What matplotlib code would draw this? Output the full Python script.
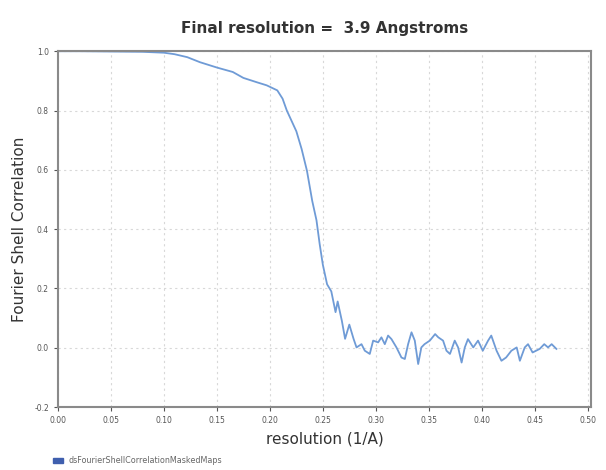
import numpy as np
import matplotlib.pyplot as plt
from matplotlib.patches import Patch

# FSC curve
res = [0.0, 0.02, 0.05, 0.08, 0.10, 0.11, 0.122, 0.134, 0.15, 0.165, 0.175, 0.188,
       0.197, 0.207, 0.212, 0.216, 0.225, 0.230, 0.235, 0.240, 0.244, 0.247, 0.250,
       0.254, 0.258, 0.262, 0.264, 0.268, 0.271, 0.275, 0.279,
       0.2818, 0.2865, 0.2896, 0.2943, 0.2975, 0.3022, 0.3053, 0.3085, 0.3116, 0.3148,
       0.3195, 0.3242, 0.3274, 0.3305, 0.3337, 0.3368, 0.340, 0.343, 0.346, 0.351,
       0.356, 0.359, 0.3635, 0.3667, 0.370, 0.3745, 0.3777, 0.381, 0.384, 0.387,
       0.392, 0.3965, 0.401, 0.406, 0.409, 0.414, 0.4186, 0.423, 0.428, 0.433,
       0.436, 0.4406, 0.4437, 0.448, 0.4547, 0.459, 0.4626, 0.466, 0.4705]
fsc = [1.0, 1.0, 0.999, 0.998, 0.995, 0.99, 0.98, 0.963, 0.945, 0.93, 0.91, 0.895,
       0.885, 0.868, 0.84, 0.80, 0.73, 0.67, 0.597, 0.495, 0.43, 0.35, 0.28,
       0.214, 0.19, 0.12, 0.156, 0.09, 0.03, 0.078, 0.03,
       0.001, 0.012, -0.010, -0.021, 0.024, 0.018, 0.035, 0.012, 0.041, 0.029,
       0.001, -0.033, -0.038, 0.012, 0.052, 0.024, -0.055, 0.001, 0.012, 0.024,
       0.046, 0.035, 0.024, -0.010, -0.021, 0.024, 0.001, -0.050, 0.001, 0.029,
       0.001, 0.024, -0.010, 0.024, 0.041, -0.010, -0.044, -0.033, -0.010, 0.001,
       -0.044, 0.001, 0.012, -0.016, -0.004, 0.012, 0.001, 0.012, -0.004]

xticks = [0.0, 0.05, 0.10, 0.15, 0.20, 0.25, 0.30, 0.35, 0.40, 0.45, 0.50]
yticks = [-0.2, 0.0, 0.2, 0.4, 0.6, 0.8, 1.0]

fig = plt.figure(figsize=(6.06, 4.70), dpi=100)
ax = fig.add_axes([0.0957, 0.134, 0.8793, 0.757])

ax.plot(res, fsc, color="#6f9bd6", lw=1.3)

ax.set_xlim(0, 0.503)
ax.set_ylim(-0.2, 1.0)
ax.set_xticks(xticks)
ax.set_xticklabels(["%.2f" % t for t in xticks])
ax.set_yticks(yticks)
ax.set_yticklabels(["%.1f" % t for t in yticks])
ax.tick_params(labelsize=5.5, colors="#555555", length=3, width=0.8)
ax.grid(True, ls=(0, (2, 3)), color="#d8d8d8", lw=0.8)
for s in ax.spines.values():
    s.set_color("#8a8a8a")
    s.set_linewidth(1.5)

ax.set_title("Final resolution =  3.9 Angstroms", fontsize=11, color="#333333",
             fontweight="semibold", pad=13)
ax.set_xlabel("resolution (1/A)", fontsize=11, color="#333333", labelpad=5)
ax.set_ylabel("Fourier Shell Correlation", fontsize=11, color="#333333", labelpad=5)

fig.legend([Patch(color="#3f5fae")], ["dsFourierShellCorrelationMaskedMaps"],
           loc="lower left", bbox_to_anchor=(0.075, -0.005), frameon=False,
           fontsize=5.8, handlelength=1.3, handleheight=0.5, handletextpad=0.6,
           labelcolor="#666666")

plt.savefig("out.png", dpi=100)
